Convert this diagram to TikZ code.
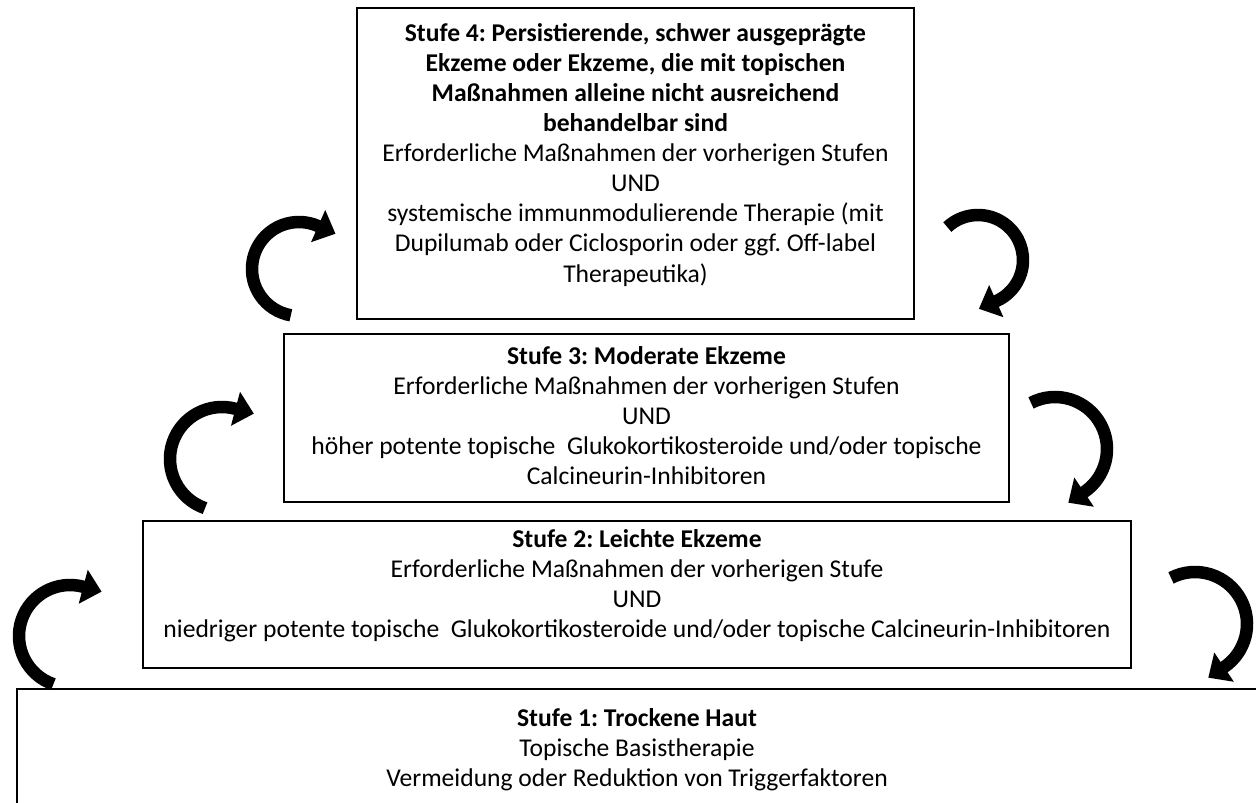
\documentclass[tikz,border=0pt]{standalone}
\usepackage{fontspec}
\setmainfont{Carlito}
\usetikzlibrary{arrows.meta}
\tikzset{
  box/.style={draw=black, line width=1.6pt, inner sep=0pt},
  txt/.style={align=center, inner sep=0pt, anchor=north, font=\fontsize{25.6}{30.1}\selectfont\frenchspacing},
  arr/.style={line width=12.5pt, -{Triangle[width=34pt,length=19pt]}}
}
\begin{document}
\begin{tikzpicture}[x=1pt,y=-1pt]
\useasboundingbox (0,0) rectangle (1256,803);
\clip (0,0) rectangle (1256,803);
\fill[white] (0,0) rectangle (1256,803);
% boxes
\node[box, minimum width=557pt, minimum height=311pt] (b4) at (635.5,163.5) {};
\node[box, minimum width=725pt, minimum height=168pt] (b3) at (646.5,418) {};
\node[box, minimum width=988pt, minimum height=147pt] (b2) at (637,594.5) {};
\node[box, minimum width=1242pt, minimum height=160pt] (b1) at (638,769) {};
% texts
\node[txt] (t4) at (635.5,23) {\textbf{Stufe 4: Persistierende, schwer ausgeprägte}\\
\textbf{Ekzeme oder Ekzeme, die mit topischen}\\
\textbf{Maßnahmen alleine nicht ausreichend}\\
\textbf{behandelbar sind}\\
Erforderliche Maßnahmen der vorherigen Stufen\\
UND\\
systemische immunmodulierende Therapie (mit\\
Dupilumab oder Ciclosporin oder ggf. Off-label\\
Therapeutika)};
\node[txt] (t3) at (646.5,346) {\textbf{Stufe 3: Moderate Ekzeme}\\
Erforderliche Maßnahmen der vorherigen Stufen\\
UND\\
höher potente topische~ Glukokortikosteroide und/oder topische\\
Calcineurin-Inhibitoren};
\node[txt] (t2) at (637,529) {\textbf{Stufe 2: Leichte Ekzeme}\\
Erforderliche Maßnahmen der vorherigen Stufe\\
UND\\
niedriger potente topische~ Glukokortikosteroide und/oder topische Calcineurin-Inhibitoren};
\node[txt] (t1) at (637,708) {\textbf{Stufe 1: Trockene Haut}\\
Topische Basistherapie\\
Vermeidung oder Reduktion von Triggerfaktoren};
% arc centres of the curved arrows
\coordinate (la1) at (70,636);
\coordinate (la2) at (222,459);
\coordinate (la3) at (299,269);
\coordinate (ra1) at (1195,624);
\coordinate (ra2) at (1055,449);
\coordinate (ra3) at (978,260);
% left arrows (upward)
\draw[arr] ([shift={(la1)}]-251:51) arc[start angle=-251, end angle=-75, radius=51] -- ++(18.4,4.9);
\draw[arr] ([shift={(la2)}]-251:52) arc[start angle=-251, end angle=-75, radius=52] -- ++(18.4,4.9);
\draw[arr] ([shift={(la3)}]-260:47) arc[start angle=-260, end angle=-66, radius=47] -- ++(17.4,7.7);
% right arrows (downward)
\draw[arr] ([shift={(ra1)}]-117.5:52) arc[start angle=-117.5, end angle=56, radius=52] -- ++(-15.8,10.6);
\draw[arr] ([shift={(ra2)}]-117.5:52) arc[start angle=-117.5, end angle=56, radius=52] -- ++(-15.8,10.6);
\draw[arr] ([shift={(ra3)}]-133:45) arc[start angle=-133, end angle=66, radius=45] -- ++(-17.4,7.7);
\end{tikzpicture}
\end{document}
